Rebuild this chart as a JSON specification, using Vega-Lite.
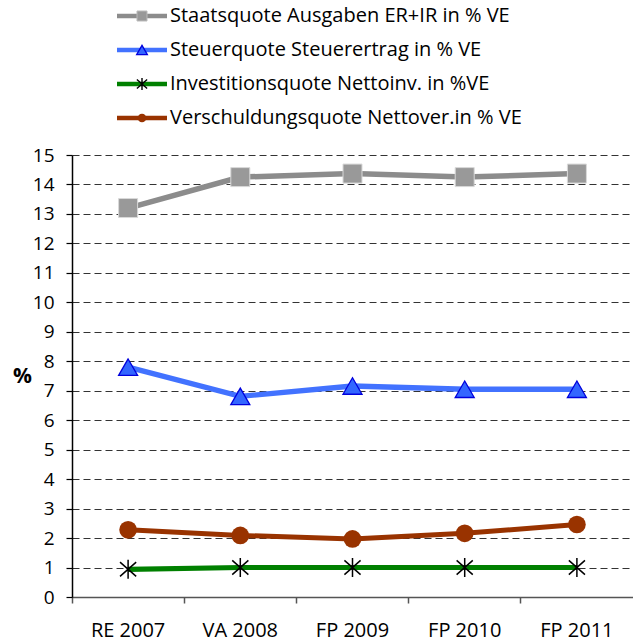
{
  "$schema": "https://vega.github.io/schema/vega-lite/v6.json",
  "width": 561,
  "height": 442,
  "autosize": {"type": "none"},
  "padding": {"left": 72, "top": 155, "right": 0, "bottom": 44},
  "background": "white",
  "config": {"font": "Open Sans", "view": {"stroke": null}},
  "data": {"values": [
    {"period": "RE 2007", "series": "Staatsquote Ausgaben ER+IR in % VE", "value": 13.2},
    {"period": "VA 2008", "series": "Staatsquote Ausgaben ER+IR in % VE", "value": 14.25},
    {"period": "FP 2009", "series": "Staatsquote Ausgaben ER+IR in % VE", "value": 14.37},
    {"period": "FP 2010", "series": "Staatsquote Ausgaben ER+IR in % VE", "value": 14.25},
    {"period": "FP 2011", "series": "Staatsquote Ausgaben ER+IR in % VE", "value": 14.37},
    {"period": "RE 2007", "series": "Steuerquote Steuerertrag in % VE", "value": 7.8},
    {"period": "VA 2008", "series": "Steuerquote Steuerertrag in % VE", "value": 6.81},
    {"period": "FP 2009", "series": "Steuerquote Steuerertrag in % VE", "value": 7.16},
    {"period": "FP 2010", "series": "Steuerquote Steuerertrag in % VE", "value": 7.05},
    {"period": "FP 2011", "series": "Steuerquote Steuerertrag in % VE", "value": 7.05},
    {"period": "RE 2007", "series": "Investitionsquote Nettoinv. in %VE", "value": 0.94},
    {"period": "VA 2008", "series": "Investitionsquote Nettoinv. in %VE", "value": 1.0},
    {"period": "FP 2009", "series": "Investitionsquote Nettoinv. in %VE", "value": 1.0},
    {"period": "FP 2010", "series": "Investitionsquote Nettoinv. in %VE", "value": 1.0},
    {"period": "FP 2011", "series": "Investitionsquote Nettoinv. in %VE", "value": 1.0},
    {"period": "RE 2007", "series": "Verschuldungsquote Nettover.in % VE", "value": 2.28},
    {"period": "VA 2008", "series": "Verschuldungsquote Nettover.in % VE", "value": 2.09},
    {"period": "FP 2009", "series": "Verschuldungsquote Nettover.in % VE", "value": 1.97},
    {"period": "FP 2010", "series": "Verschuldungsquote Nettover.in % VE", "value": 2.16},
    {"period": "FP 2011", "series": "Verschuldungsquote Nettover.in % VE", "value": 2.46}
  ]},
  "resolve": {"scale": {"x": "independent", "y": "independent"}},
  "layer": [
    {
      "encoding": {
        "x": {
          "field": "period", "type": "nominal",
          "sort": ["RE 2007", "VA 2008", "FP 2009", "FP 2010", "FP 2011"],
          "scale": {"type": "band", "paddingInner": 0, "paddingOuter": 0},
          "axis": {
            "title": null, "labelAngle": 0, "bandPosition": 0, "labelOffset": 0,
            "labelFontSize": 20, "labelColor": "black", "labelPadding": 17,
            "domainColor": "#555555", "domainWidth": 1.5, "tickColor": "#555555", "tickWidth": 1.5, "tickSize": 6,
            "grid": false
          }
        },
        "y": {
          "field": "value", "type": "quantitative",
          "scale": {"domain": [0, 15], "nice": false, "zero": true},
          "axis": {
            "title": "%", "titleAngle": 0, "titleFontSize": 21, "titleFontWeight": "bold", "titleColor": "black",
            "titleX": -50, "titleY": 221, "titleAlign": "center", "titleBaseline": "middle",
            "values": [0,1,2,3,4,5,6,7,8,9,10,11,12,13,14,15],
            "labelFontSize": 19, "labelColor": "black", "labelPadding": 12,
            "domainColor": "black", "domainWidth": 1.5, "tickColor": "black", "tickWidth": 1.2, "tickSize": 6,
            "grid": true, "gridColor": "#333333", "gridDash": [7, 4], "gridWidth": 1
          }
        }
      },
      "layer": [
        {
          "mark": {"type": "line"},
          "encoding": {
            "color": {"field": "series", "type": "nominal", "legend": null,
              "scale": {"domain": ["Staatsquote Ausgaben ER+IR in % VE", "Steuerquote Steuerertrag in % VE", "Investitionsquote Nettoinv. in %VE", "Verschuldungsquote Nettover.in % VE"],
                        "range": ["#8C8C8C", "#4272FF", "#008000", "#993300"]}},
            "strokeWidth": {"field": "series", "type": "nominal", "legend": null,
              "scale": {"domain": ["Staatsquote Ausgaben ER+IR in % VE", "Steuerquote Steuerertrag in % VE", "Investitionsquote Nettoinv. in %VE", "Verschuldungsquote Nettover.in % VE"],
                        "range": [5.5, 5, 6, 5]}}
          }
        },
        {
          "transform": [{"filter": "datum.series === 'Staatsquote Ausgaben ER+IR in % VE'"}],
          "mark": {"type": "point", "shape": "square", "size": 361, "filled": true, "opacity": 1, "fill": "#999999", "stroke": "#D9D9D9", "strokeWidth": 1}
        },
        {
          "transform": [{"filter": "datum.series === 'Steuerquote Steuerertrag in % VE'"}],
          "mark": {"type": "point", "shape": "triangle-up", "size": 361, "filled": true, "opacity": 1, "fill": "#3366FF", "stroke": "#0000DD", "strokeWidth": 1.3}
        },
        {
          "transform": [{"filter": "datum.series === 'Investitionsquote Nettoinv. in %VE'"}],
          "mark": {"type": "point", "shape": "M0,-1V1M-0.85,-0.75L0.85,0.75M-0.85,0.75L0.85,-0.75", "size": 361, "filled": false, "opacity": 1, "fill": null, "stroke": "black", "strokeWidth": 1.5}
        },
        {
          "transform": [{"filter": "datum.series === 'Verschuldungsquote Nettover.in % VE'"}],
          "mark": {"type": "point", "shape": "circle", "size": 314, "filled": true, "opacity": 1, "fill": "#993300", "stroke": null}
        }
      ]
    },
    {
      "transform": [{"filter": "datum.period === 'RE 2007'"}],
      "encoding": {
        "y": {"field": "series", "type": "nominal", "axis": null,
          "scale": {"type": "point", "padding": 0, "range": [-139, -37],
                    "domain": ["Staatsquote Ausgaben ER+IR in % VE", "Steuerquote Steuerertrag in % VE", "Investitionsquote Nettoinv. in %VE", "Verschuldungsquote Nettover.in % VE"]}}
      },
      "layer": [
        {
          "mark": {"type": "rule", "strokeWidth": 4.5, "strokeCap": "butt"},
          "encoding": {
            "x": {"datum": 0, "type": "quantitative", "axis": null, "scale": {"domain": [0, 1], "range": [45, 95], "nice": false, "zero": false}},
            "x2": {"datum": 1},
            "color": {"field": "series", "type": "nominal", "legend": null}
          }
        },
        {
          "transform": [{"filter": "datum.series === 'Staatsquote Ausgaben ER+IR in % VE'"}],
          "mark": {"type": "point", "shape": "square", "size": 100, "filled": true, "opacity": 1, "fill": "#999999", "stroke": "#BBBBBB", "strokeWidth": 1},
          "encoding": {"x": {"datum": 0.5, "type": "quantitative", "axis": null}}
        },
        {
          "transform": [{"filter": "datum.series === 'Steuerquote Steuerertrag in % VE'"}],
          "mark": {"type": "point", "shape": "triangle-up", "size": 115, "filled": true, "opacity": 1, "fill": "#3366FF", "stroke": "#0000DD", "strokeWidth": 1.3},
          "encoding": {"x": {"datum": 0.5, "type": "quantitative", "axis": null}}
        },
        {
          "transform": [{"filter": "datum.series === 'Investitionsquote Nettoinv. in %VE'"}],
          "mark": {"type": "point", "shape": "M0,-1V1M-0.85,-0.75L0.85,0.75M-0.85,0.75L0.85,-0.75", "size": 144, "filled": false, "opacity": 1, "fill": null, "stroke": "black", "strokeWidth": 1.4},
          "encoding": {"x": {"datum": 0.5, "type": "quantitative", "axis": null}}
        },
        {
          "transform": [{"filter": "datum.series === 'Verschuldungsquote Nettover.in % VE'"}],
          "mark": {"type": "point", "shape": "circle", "size": 75, "filled": true, "opacity": 1, "fill": "#993300", "stroke": null},
          "encoding": {"x": {"datum": 0.5, "type": "quantitative", "axis": null}}
        },
        {
          "mark": {"type": "text", "align": "left", "baseline": "middle", "dx": 3, "fontSize": 20, "color": "black", "font": "Open Sans"},
          "encoding": {
            "x": {"datum": 1, "type": "quantitative", "axis": null},
            "text": {"field": "series", "type": "nominal"}
          }
        }
      ]
    }
  ]
}
